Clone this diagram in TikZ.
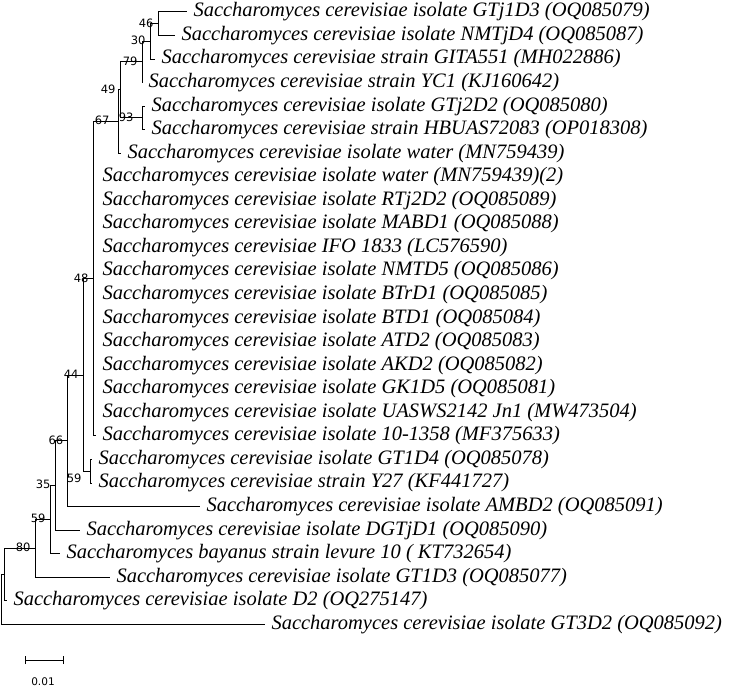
\documentclass[tikz,border=0pt]{standalone}
\usepackage{fontspec}
\setmainfont{Liberation Serif}
\newfontfamily\labfont{DejaVu Sans}
\begin{document}
\begin{tikzpicture}[x=1pt,y=-1pt,line width=1pt,
  leaftext/.style={anchor=west,inner sep=0pt,font=\fontsize{20.5}{22}\selectfont\itshape},
  boot/.style={anchor=south east,inner sep=0pt,font=\labfont\fontsize{11.5}{13}\selectfont},
  bootb/.style={anchor=north east,inner sep=0pt,font=\labfont\fontsize{11.5}{13}\selectfont},
  br/.style={line width=1pt}]
\useasboundingbox (0,-4) rectangle (733,686);
% internal nodes
\coordinate (N46) at (158,19.8);
\coordinate (N30) at (150,37.4);
\coordinate (N79) at (142,58.0);
\coordinate (N93) at (142,114);
\coordinate (N49) at (120,86);
\coordinate (N67b) at (118,117.6);
\coordinate (N48) at (93,274.8);
\coordinate (N59) at (90,467.2);
\coordinate (N44) at (83,371);
\coordinate (N67) at (67.7,436.8);
\coordinate (N55) at (55,481.5);
\coordinate (N50) at (50,515.6);
\coordinate (N35) at (35,544.4);
\coordinate (N4) at (4,570.6);
\coordinate (R) at (1,595.4);
% leaves: end coordinates
\coordinate (L0) at (187,8);
\coordinate (L1) at (175,31.55);
\coordinate (L2) at (155,55.1);
\coordinate (L3) at (142,78.65);
\coordinate (L4) at (145,102.2);
\coordinate (L5) at (145,125.75);
\coordinate (L6) at (121,149.3);
\foreach \i/\y in {7/172.85,8/196.4,9/219.95,10/243.5,11/267.05,12/290.6,13/314.15,14/337.7,15/361.25,16/384.8,17/408.35,18/431.9}
  \coordinate (L\i) at (96,\y);
\coordinate (L19) at (92,455.45);
\coordinate (L20) at (92,479);
\coordinate (L21) at (200,502.55);
\coordinate (L22) at (80,526.1);
\coordinate (L23) at (60,549.65);
\coordinate (L24) at (110,573.2);
\coordinate (L25) at (7,596.75);
\coordinate (L26) at (265,620.3);
% edges
\draw[br] (N46) |- (L0); \draw[br] (N46) |- (L1);
\draw[br] (N30) |- (N46); \draw[br] (N30) |- (L2);
\draw[br] (N79) |- (N30); \draw[br] (N79) |- (L3);
\draw[br] (N93) |- (L4); \draw[br] (N93) |- (L5);
\draw[br] (N49) |- (N79); \draw[br] (N49) |- (N93);
\draw[br] (N67b) |- (N49); \draw[br] (N67b) |- (L6);
\draw[br] (N48) |- (N67b); \draw[br] (N48) |- (L18);
\draw[br] (N59) |- (L19); \draw[br] (N59) |- (L20);
\draw[br] (N44) |- (N48); \draw[br] (N44) |- (N59);
\draw[br] (N67) |- (N44); \draw[br] (N67) |- (L21);
\draw[br] (N55) |- (N67); \draw[br] (N55) |- (L22);
\draw[br] (N50) |- (N55); \draw[br] (N50) |- (L23);
\draw[br] (N35) |- (N50); \draw[br] (N35) |- (L24);
\draw[br] (N4) |- (N35); \draw[br] (N4) |- (L25);
\draw[br] (R) |- (N4); \draw[br] (R) |- (L26);
% leaf labels
\newcommand\lbl[2]{\node[leaftext] (T#1) at ([xshift=6pt]L#1) {#2};}
\lbl{0}{Saccharomyces cerevisiae isolate GTj1D3 (OQ085079)}
\lbl{1}{Saccharomyces cerevisiae isolate NMTjD4 (OQ085087)}
\lbl{2}{Saccharomyces cerevisiae strain GITA551 (MH022886)}
\lbl{3}{Saccharomyces cerevisiae strain YC1 (KJ160642)}
\lbl{4}{Saccharomyces cerevisiae isolate GTj2D2 (OQ085080)}
\lbl{5}{Saccharomyces cerevisiae strain HBUAS72083 (OP018308)}
\lbl{6}{Saccharomyces cerevisiae isolate water (MN759439)}
\lbl{7}{Saccharomyces cerevisiae isolate water (MN759439)(2)}
\lbl{8}{Saccharomyces cerevisiae isolate RTj2D2 (OQ085089)}
\lbl{9}{Saccharomyces cerevisiae isolate MABD1 (OQ085088)}
\lbl{10}{Saccharomyces cerevisiae IFO 1833 (LC576590)}
\lbl{11}{Saccharomyces cerevisiae isolate NMTD5 (OQ085086)}
\lbl{12}{Saccharomyces cerevisiae isolate BTrD1 (OQ085085)}
\lbl{13}{Saccharomyces cerevisiae isolate BTD1 (OQ085084)}
\lbl{14}{Saccharomyces cerevisiae isolate ATD2 (OQ085083)}
\lbl{15}{Saccharomyces cerevisiae isolate AKD2 (OQ085082)}
\lbl{16}{Saccharomyces cerevisiae isolate GK1D5 (OQ085081)}
\lbl{17}{Saccharomyces cerevisiae isolate UASWS2142 Jn1 (MW473504)}
\lbl{18}{Saccharomyces cerevisiae isolate 10-1358 (MF375633)}
\lbl{19}{Saccharomyces cerevisiae isolate GT1D4 (OQ085078)}
\lbl{20}{Saccharomyces cerevisiae strain Y27 (KF441727)}
\lbl{21}{Saccharomyces cerevisiae isolate AMBD2 (OQ085091)}
\lbl{22}{Saccharomyces cerevisiae isolate DGTjD1 (OQ085090)}
\lbl{23}{Saccharomyces bayanus strain levure 10 ( KT732654)}
\lbl{24}{Saccharomyces cerevisiae isolate GT1D3 (OQ085077)}
\lbl{25}{Saccharomyces cerevisiae isolate D2 (OQ275147)}
\lbl{26}{Saccharomyces cerevisiae isolate GT3D2 (OQ085092)}
% bootstrap values
\node[boot] (b46) at ([xshift=-4pt,yshift=-4pt]N46) {46};
\node[boot] (b30) at ([xshift=-4pt,yshift=-4pt]N30) {30};
\node[boot] (b79) at ([xshift=-4pt,yshift=-4pt]N79) {79};
\node[bootb] (b93) at ([xshift=-8pt,yshift=6pt]N93) {93};
\node[boot] (b49) at ([xshift=-4pt,yshift=-4pt]N49) {49};
\node[boot] (b67b) at ([xshift=-8pt,yshift=-4pt]N67b) {67};
\node[boot] (b48) at ([xshift=-4pt,yshift=-4pt]N48) {48};
\node[bootb] (b59a) at ([xshift=-8pt,yshift=-2pt]N59) {59};
\node[boot] (b44) at ([xshift=-4pt,yshift=-4pt]N44) {44};
\node[boot] (b66) at ([xshift=-4pt,yshift=-4pt]N67) {66};
\node[boot] (b35) at ([xshift=-4pt,yshift=-4pt]N55) {35};
\node[boot] (b59) at ([xshift=-4pt,yshift=-4pt]N50) {59};
\node[boot] (b80) at ([xshift=-4pt,yshift=-4pt]N35) {80};
% scale bar
\coordinate (S1) at (25,656); \coordinate (S2) at (63,656);
\draw[line width=0.9pt] (S1) -- (S2);
\draw[line width=0.9pt] ([yshift=-4pt]S1) -- ([yshift=4pt]S1);
\draw[line width=0.9pt] ([yshift=-4pt]S2) -- ([yshift=4pt]S2);
\node[font=\labfont\fontsize{10.5}{12}\selectfont,inner sep=0pt] (sl) at (43,678) {0.01};
\end{tikzpicture}
\end{document}
